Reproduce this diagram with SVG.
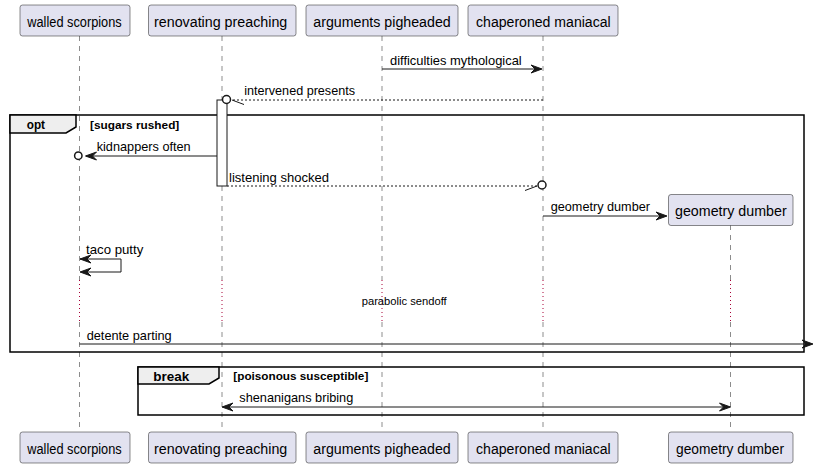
<svg xmlns="http://www.w3.org/2000/svg" width="813" height="467" viewBox="0 0 813 467">
<style>
.part rect{fill:#E2E2F0;stroke:#181818;stroke-width:0.5}
.pt{font-family:"Liberation Sans",Arial,sans-serif;font-size:14px;fill:#000}
.mt{font-family:"Liberation Sans",Arial,sans-serif;font-size:13px;fill:#000}
.ct{font-family:"Liberation Sans",Arial,sans-serif;font-size:11px;font-weight:bold;fill:#000}
.ft{font-family:"Liberation Sans",Arial,sans-serif;font-size:13px;font-weight:bold;fill:#000}
.dt{font-family:"Liberation Sans",Arial,sans-serif;font-size:11px;fill:#000}
.life{stroke:#181818;stroke-width:0.5;stroke-dasharray:5,5;fill:none}
.delay{stroke:#A80036;stroke-width:1;stroke-dasharray:1,3;fill:none}
.msg{stroke:#181818;stroke-width:1;fill:none}
.dash{stroke:#181818;stroke-width:1;fill:none;stroke-dasharray:2,2}
.head{fill:#181818;stroke:#181818;stroke-width:1}
.circ{fill:#fff;stroke:#181818;stroke-width:1.5}
.frame{fill:none;stroke:#000;stroke-width:1.5}
.tab{fill:#EEEEEE;stroke:#000;stroke-width:1.5}
</style>
<g id="lifelines">
<line class="life" x1="79.5" y1="36" x2="79.5" y2="280"/><line class="delay" x1="79.5" y1="280" x2="79.5" y2="322"/><line class="life" x1="79.5" y1="322" x2="79.5" y2="432"/>
<line class="life" x1="222" y1="36" x2="222" y2="280"/><line class="delay" x1="222" y1="280" x2="222" y2="322"/><line class="life" x1="222" y1="322" x2="222" y2="432"/>
<line class="life" x1="382" y1="36" x2="382" y2="280"/><line class="delay" x1="382" y1="280" x2="382" y2="322"/><line class="life" x1="382" y1="322" x2="382" y2="432"/>
<line class="life" x1="543" y1="36" x2="543" y2="280"/><line class="delay" x1="543" y1="280" x2="543" y2="322"/><line class="life" x1="543" y1="322" x2="543" y2="432"/>
<line class="life" x1="730.5" y1="225" x2="730.5" y2="280"/><line class="delay" x1="730.5" y1="280" x2="730.5" y2="322"/><line class="life" x1="730.5" y1="322" x2="730.5" y2="432"/>
</g>
<g id="frame-opt">
<rect class="frame" x="10" y="115" width="794" height="237"/>
<path class="tab" d="M10,115 H76 V127 L66,133 H10 Z"/>
<text class="ft" x="26.7" y="129" textLength="18.3" lengthAdjust="spacingAndGlyphs">opt</text>
<text class="ct" x="90" y="129" textLength="89.3" lengthAdjust="spacingAndGlyphs">[sugars rushed]</text>
</g>
<g id="frame-break">
<rect class="frame" x="138" y="367" width="666" height="48"/>
<path class="tab" d="M138,367 H219 V378 L209,384 H138 Z"/>
<text class="ft" x="153.3" y="381" textLength="36" lengthAdjust="spacingAndGlyphs">break</text>
<text class="ct" x="233.3" y="380" textLength="135" lengthAdjust="spacingAndGlyphs">[poisonous susceptible]</text>
</g>
<g id="activation">
<rect x="217" y="100" width="10" height="86" fill="#fff" stroke="#181818" stroke-width="1"/>
</g>
<g id="participants">
<g id="p-walled" class="part"><rect x="20" y="5" width="110" height="31" rx="2.5"/><text class="pt" x="27.3" y="27" textLength="94.4" lengthAdjust="spacingAndGlyphs">walled scorpions</text></g>
<g id="p-renovating" class="part"><rect x="148.5" y="5" width="147.5" height="31" rx="2.5"/><text class="pt" x="154" y="27" textLength="133.3" lengthAdjust="spacingAndGlyphs">renovating preaching</text></g>
<g id="p-arguments" class="part"><rect x="306" y="5" width="152" height="31" rx="2.5"/><text class="pt" x="313.3" y="27" textLength="137.4" lengthAdjust="spacingAndGlyphs">arguments pigheaded</text></g>
<g id="p-chaperoned" class="part"><rect x="468" y="5" width="150" height="31" rx="2.5"/><text class="pt" x="476" y="27" textLength="134.7" lengthAdjust="spacingAndGlyphs">chaperoned maniacal</text></g>
<g id="p-geometry" class="part"><rect x="668.5" y="194.5" width="124.5" height="31" rx="2.5"/><text class="pt" x="675" y="216" textLength="111.7" lengthAdjust="spacingAndGlyphs">geometry dumber</text></g>
<g id="p-walled-b" class="part"><rect x="20" y="432" width="110" height="31" rx="2.5"/><text class="pt" x="27.3" y="454" textLength="94.4" lengthAdjust="spacingAndGlyphs">walled scorpions</text></g>
<g id="p-renovating-b" class="part"><rect x="148.5" y="432" width="147.5" height="31" rx="2.5"/><text class="pt" x="154" y="454" textLength="133.3" lengthAdjust="spacingAndGlyphs">renovating preaching</text></g>
<g id="p-arguments-b" class="part"><rect x="306" y="432" width="152" height="31" rx="2.5"/><text class="pt" x="313.3" y="454" textLength="137.4" lengthAdjust="spacingAndGlyphs">arguments pigheaded</text></g>
<g id="p-chaperoned-b" class="part"><rect x="468" y="432" width="150" height="31" rx="2.5"/><text class="pt" x="476" y="454" textLength="134.7" lengthAdjust="spacingAndGlyphs">chaperoned maniacal</text></g>
<g id="p-geometry-b" class="part"><rect x="668.5" y="432" width="124.5" height="31" rx="2.5"/><text class="pt" x="676" y="454" textLength="108" lengthAdjust="spacingAndGlyphs">geometry dumber</text></g>
</g>
<g id="connectors">
<line class="msg" x1="382" y1="69" x2="541" y2="69"/>
<polygon class="head" points="531,65 542,69 531,73 535,69"/>
<text class="mt" x="390" y="65" textLength="131.7" lengthAdjust="spacingAndGlyphs">difficulties mythological</text>
<line class="dash" x1="543" y1="100" x2="232" y2="100"/>
<line class="msg" x1="232" y1="100" x2="244" y2="104.5"/>
<circle class="circ" cx="226.5" cy="99.5" r="4"/>
<text class="mt" x="244.3" y="95" textLength="110.7" lengthAdjust="spacingAndGlyphs">intervened presents</text>
<line class="msg" x1="217" y1="156" x2="86" y2="156"/>
<polygon class="head" points="96.5,152 85.5,156 96.5,160 92.5,156"/>
<circle class="circ" cx="78.3" cy="155.7" r="3.7"/>
<text class="mt" x="96.7" y="151" textLength="94" lengthAdjust="spacingAndGlyphs">kidnappers often</text>
<line class="dash" x1="227" y1="186" x2="537" y2="186"/>
<line class="msg" x1="525" y1="190.5" x2="537" y2="186"/>
<circle class="circ" cx="542" cy="185" r="4"/>
<text class="mt" x="229" y="182" textLength="100" lengthAdjust="spacingAndGlyphs">listening shocked</text>
<line class="msg" x1="543" y1="216" x2="666" y2="216"/>
<polygon class="head" points="656,212 667,216 656,220 660,216"/>
<text class="mt" x="550.7" y="211" textLength="99.3" lengthAdjust="spacingAndGlyphs">geometry dumber</text>
<polyline class="msg" points="80,259 121,259 121,272 81,272"/>
<polygon class="head" points="91,255 80,259 91,263 87,259"/>
<polygon class="head" points="91,268 80,272 91,276 87,272"/>
<text class="mt" x="86" y="254" textLength="57.3" lengthAdjust="spacingAndGlyphs">taco putty</text>
<text class="dt" x="361.7" y="305" textLength="85" lengthAdjust="spacingAndGlyphs">parabolic sendoff</text>
<line class="msg" x1="79.5" y1="344" x2="811" y2="344"/>
<polygon class="head" points="802,340 813,344 802,348 806,344"/>
<text class="mt" x="86.7" y="340" textLength="85" lengthAdjust="spacingAndGlyphs">detente parting</text>
<line class="msg" x1="223" y1="407" x2="729" y2="407"/>
<polygon class="head" points="233,403 222,407 233,411 229,407"/>
<polygon class="head" points="719.5,403 730.5,407 719.5,411 723.5,407"/>
<text class="mt" x="239.3" y="402" textLength="114" lengthAdjust="spacingAndGlyphs">shenanigans bribing</text>
</g>
</svg>
